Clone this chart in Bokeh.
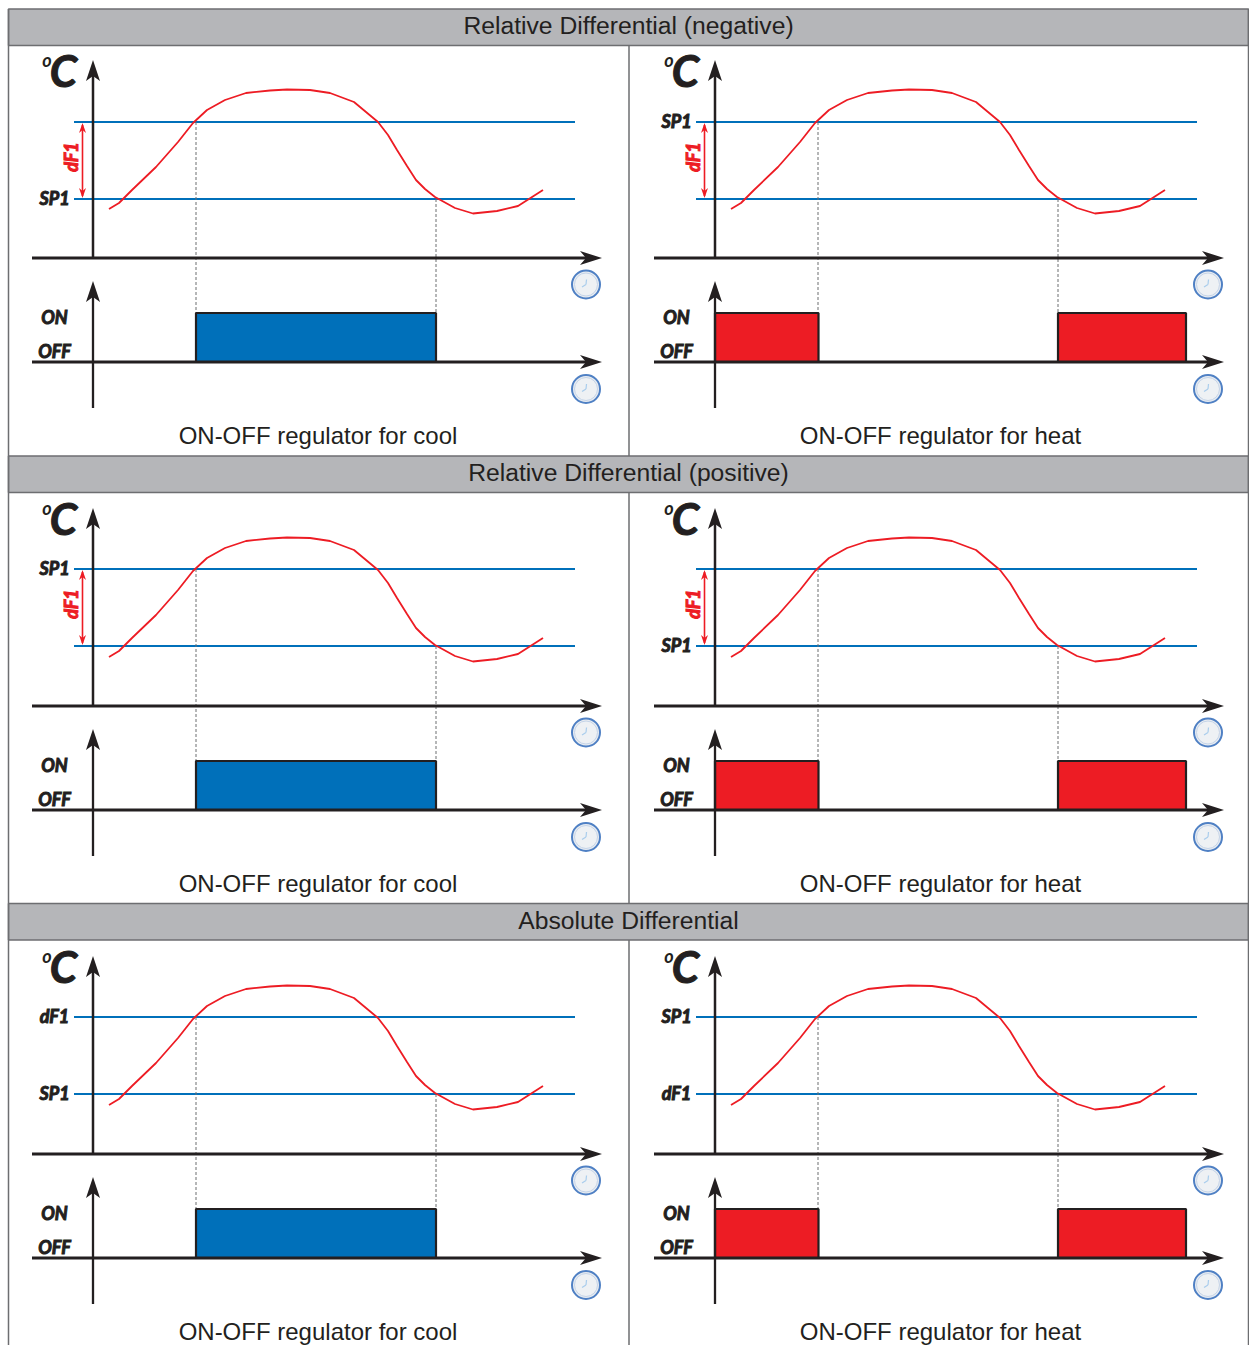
from bokeh.plotting import figure
from bokeh.embed import file_html
from bokeh.resources import INLINE
from bokeh.core.properties import value

# Section titles and captions
section_titles = ["Relative Differential (negative)", "Relative Differential (positive)", "Absolute Differential"]
captions = ["ON-OFF regulator for cool", "ON-OFF regulator for heat"]

# Temperature trace (page px of the first panel)
curve_x = [109, 119, 132, 156, 178, 193, 207, 225, 246, 270, 287, 310, 330, 354, 378, 388, 397, 407, 416, 425, 435, 455, 473, 497, 518, 543]
curve_y = [209, 203, 190, 167, 142, 123, 110, 100, 93, 90.5, 89.5, 90, 93, 102, 122, 135, 150, 166, 180, 189, 197, 208, 213.5, 211, 206, 190]

# Threshold labels per (row, column): (upper line label, lower line label)
threshold_labels = [[("", "SP1"), ("SP1", "")], [("SP1", ""), ("", "SP1")], [("dF1", "SP1"), ("SP1", "dF1")]]
differential_arrow = [True, True, False]

# Switching intervals per column
on_intervals = [[(196, 436)], [(715, 818.5), (1058, 1186)]]
on_colors = ["#0070ba", "#ed1c24"]
row_dy = [0, 448, 896]
col_dx = [0, 622]
line_dy = [0, -1, -1]  # row offset refinement for the threshold lines
UPPER, LOWER = 122, 199
TAXIS, OAXIS, ONY = 258, 362, 313
DARK, RED, BLUE = "#231f20", "#ed1c24", "#0070ba"
GREY, EDGE = "#b5b6b9", "#6d6e71"
SANS = value("Liberation Sans")
LABEL = value("Lato")

p = figure(width=1249, height=1345, x_range=(0.5, 1249.5), y_range=(1345.5, 0.5),
           output_backend="svg", toolbar_location=None, min_border=0,
           outline_line_color=None, background_fill_color="white")
p.axis.visible = False
p.grid.visible = False


def hline(x0, x1, y, color, w):
    p.line([x0, x1], [y, y], line_color=color, line_width=w)


def vline(x, y0, y1, color, w, dash="solid"):
    p.line([x, x], [y0, y1], line_color=color, line_width=w, line_dash=dash)


def head_up(x, tip):
    p.patch([x, x - 7, x, x + 7], [tip, tip + 21, tip + 16, tip + 21], color=DARK, line_width=0)


def head_right(tip, y):
    p.patch([tip, tip - 22, tip - 16, tip - 22], [y, y - 7, y, y + 7], color=DARK, line_width=0)


def small_head(x, tip, d):
    p.patch([x, x - 3.5, x, x + 3.5], [tip, tip + d * 10, tip + d * 7, tip + d * 10], color=RED, line_width=0)


def clock(x, y):
    p.circle([x], [y], radius=14, fill_color="#e9edf2", line_color="#4f80c4", line_width=2)
    p.circle([x], [y], radius=11.5, fill_color="#eef1f4", line_color="#c5d4e8", line_width=1)
    p.line([x, x + 0.5], [y, y - 5], line_color="#a9cdec", line_width=1.2)
    p.line([x, x - 4], [y, y + 2.5], line_color="#a9cdec", line_width=1.2)


def label(x, y, text, size, color=DARK, angle=0, outlined=True):
    p.text([x], [y], text=[text], text_font=LABEL, text_font_style="bold italic",
           text_font_size=size, text_color=color, text_align="center",
           text_baseline="middle", angle=angle, text_outline_color=color if outlined else None)


for r, dy in enumerate(row_dy):
    for c, dx in enumerate(col_dx):
        ld = dy + line_dy[r]
        # thresholds
        hline(74 + dx, 575 + dx, UPPER + ld, BLUE, 1.9)
        hline(74 + dx, 575 + dx, LOWER + ld, BLUE, 1.9)
        # guide lines
        vline(196 + dx, UPPER + ld, ONY + dy, "#6d6e71", 1, "3 2")
        vline(436 + dx, LOWER + ld, ONY + dy, "#6d6e71", 1, "3 2")
        # switched output
        for a, b in on_intervals[c]:
            p.quad(left=[a], right=[b], top=[ONY + dy], bottom=[OAXIS + dy],
                   fill_color=on_colors[c], line_color=DARK, line_width=2.2)
        # trace
        p.line([v + dx for v in curve_x], [v + dy for v in curve_y], line_color=RED, line_width=1.8)
        # axes
        vline(93 + dx, 70 + dy, TAXIS + dy, DARK, 2.5)
        vline(93 + dx, 292 + dy, 408 + dy, DARK, 2.3)
        hline(32 + dx, 590 + dx, TAXIS + dy, DARK, 2.9)
        hline(32 + dx, 590 + dx, OAXIS + dy, DARK, 2.9)
        head_up(93 + dx, 60 + dy)
        head_up(93 + dx, 281 + dy)
        head_right(602 + dx, TAXIS + dy)
        head_right(602 + dx, OAXIS + dy)
        clock(586 + dx, 284.5 + dy)
        clock(586 + dx, 389 + dy)
        # labels
        label(63.5 + dx, 70 + dy, "C", "44px")
        label(47 + dx, 60 + dy, "o", "18px", outlined=False)
        label(54.5 + dx, 317 + dy, "ON", "18px")
        label(54.5 + dx, 351 + dy, "OFF", "18px")
        up, low = threshold_labels[r][c]
        if up:
            label(54.5 + dx, UPPER + ld - 1, up, "18px")
        if low:
            label(54.5 + dx, LOWER + ld - 1, low, "18px")
        if differential_arrow[r]:
            vline(82.5 + dx, UPPER + ld + 3, LOWER + ld - 3, RED, 1.6)
            small_head(82.5 + dx, UPPER + ld + 1, 1)
            small_head(82.5 + dx, LOWER + ld - 1, -1)
            label(71 + dx, 157 + ld, "dF1", "18px", color=RED, angle=1.5708)
        # caption
        p.text([318 + dx + c * 0.5], [435 + dy], text=[captions[c]], text_font=SANS, text_font_size="24px",
               text_color=DARK, text_align="center", text_baseline="middle")

# frames and headers
header_top = [9, 456, 903.5]
for top, title in zip(header_top, section_titles):
    p.quad(left=[8.5], right=[1248.5], top=[top], bottom=[top + 36.5], fill_color=GREY, line_color=EDGE, line_width=1.5)
    p.text([628.5], [top + 16.5], text=[title], text_font=SANS, text_font_size="24.7px",
           text_color=DARK, text_align="center", text_baseline="middle")
vline(8.5, 9, 1345, EDGE, 1.5)
vline(1248.5, 9, 1345, EDGE, 1.5)
for top, bot in zip([45, 492.5, 940], [456, 903.5, 1345]):
    vline(629, top, bot, EDGE, 1.5)

open("out.html", "w").write(file_html(p, INLINE))
